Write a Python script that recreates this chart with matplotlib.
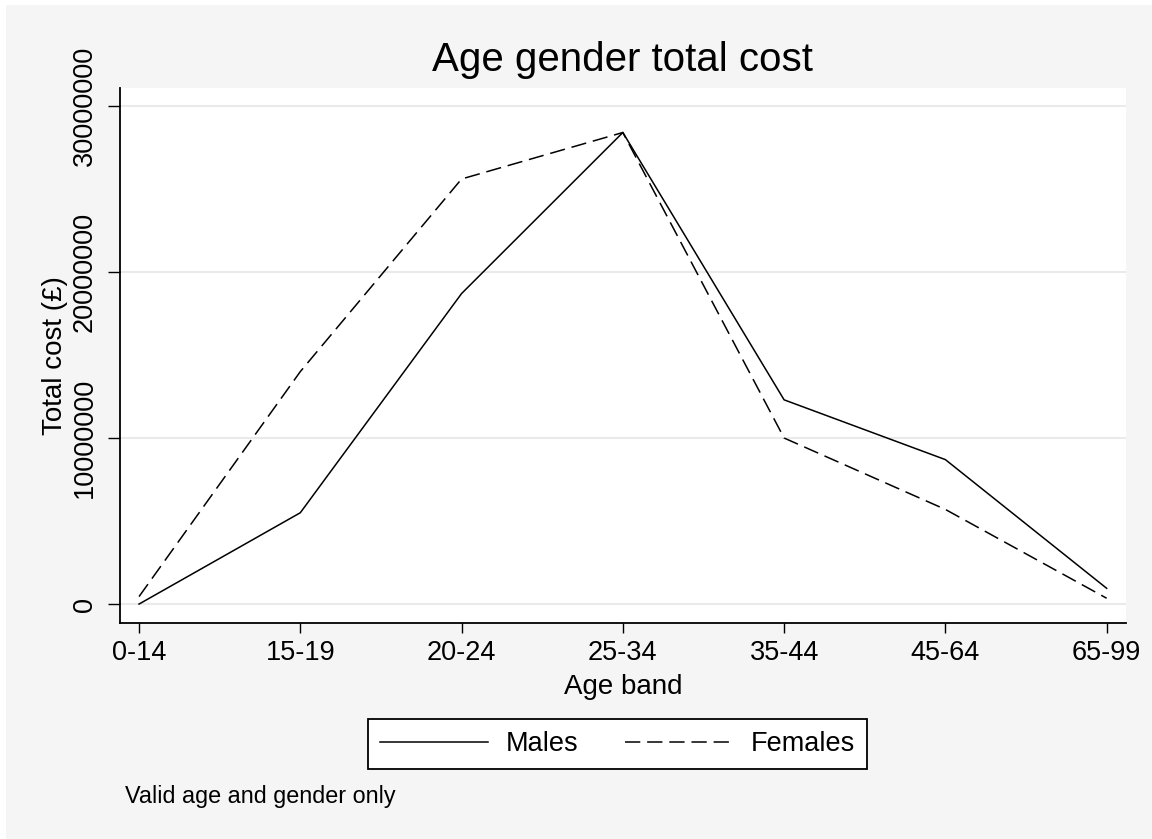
import matplotlib
matplotlib.use("Agg")
import matplotlib.pyplot as plt
from matplotlib.patches import Rectangle

# ----- data -----
age_bands = ["0-14", "15-19", "20-24", "25-34", "35-44", "45-64", "65-99"]
males = [0.0, 5.5e6, 18.7e6, 28.4e6, 12.3e6, 8.7e6, 0.95e6]
females = [0.45e6, 14.0e6, 25.6e6, 28.4e6, 10.0e6, 5.7e6, 0.35e6]
y_ticks = [0, 10000000, 20000000, 30000000]

W, H = 1152, 839
plt.rcParams["font.family"] = ["Liberation Sans", "DejaVu Sans"]

fig = plt.figure(figsize=(W / 100, H / 100), dpi=100, facecolor="white")

# grey outer region (Stata-style), kept behind the axes
fig.patches.append(Rectangle((6 / W, 0), 1 - 6 / W, 1 - 5 / H,
                             transform=fig.transFigure, facecolor="#f5f5f5",
                             edgecolor="none", zorder=-10))

ax = fig.add_axes([120 / W, 1 - 623 / H, (1126 - 120) / W, (623 - 88) / H])
ax.set_facecolor("white")

x = list(range(len(age_bands)))
ax.plot(x, males, color="black", lw=1.1, label="Males")
ax.plot(x, females, color="black", lw=1.1, dashes=(10, 4.5), label="Females")

ax.set_xlim(-0.118, 6.12)
ax.set_ylim(-1.14e6, 31.08e6)
ax.set_xticks(x)
ax.set_xticklabels(age_bands)
ax.set_yticks(y_ticks)
ax.set_yticklabels([str(v) for v in y_ticks], rotation=90, va="center")

ax.grid(axis="y", color="#eaeaea", lw=1.5)
ax.set_axisbelow(True)
for side in ("top", "right"):
    ax.spines[side].set_visible(False)
for side in ("left", "bottom"):
    ax.spines[side].set_linewidth(1.3)

ax.tick_params(axis="y", length=8.5, width=1.0, pad=7.5, labelsize=19.5)
ax.tick_params(axis="x", length=7, width=1.0, pad=5, labelsize=19.5)

ax.set_xlabel("Age band", fontsize=20)
ax.xaxis.set_label_coords(0.5, -0.095)
ax.set_ylabel("Total cost (\u00a3)", fontsize=20)
ax.yaxis.set_label_coords(-0.052, 0.5)

fig.text(622 / W, 1 - 60 / H, "Age gender total cost", fontsize=29,
         ha="center", va="center")

leg = fig.legend(loc="center", bbox_to_anchor=(617.5 / W, 1 - 744 / H),
                 ncol=2, fontsize=19.5, frameon=True, fancybox=False,
                 edgecolor="black", framealpha=1, handlelength=4,
                 handletextpad=0.65, columnspacing=1.7, borderpad=0.45)
leg.get_frame().set_linewidth(1.3)

fig.text(125 / W, 1 - 797 / H, "Valid age and gender only", fontsize=16.8,
         ha="left", va="center")

fig.savefig("out.png", dpi=100, facecolor=fig.get_facecolor())
